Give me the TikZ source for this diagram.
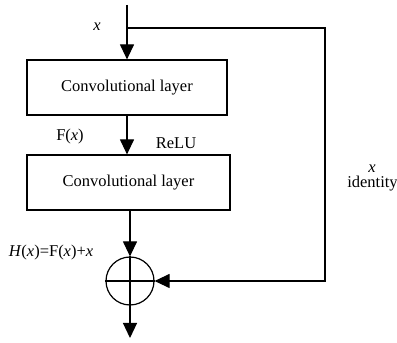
\documentclass[tikz,border=0pt]{standalone}
\usepackage{fontspec}
\setmainfont{Liberation Serif}
\usepackage{tikz}
\usetikzlibrary{arrows.meta,positioning}
\tikzset{
  every picture/.style={font=\fontsize{16.5}{19}\selectfont, line join=miter, x=1pt, y=1pt},
  layerbox/.style={draw, line width=1.2pt, minimum height=55pt, inner sep=0pt},
  sumnode/.style={draw, circle, line width=1.2pt, minimum size=48pt, inner sep=0pt},
  flow/.style={line width=1.2pt},
  arr/.style={flow, -{Triangle[length=15pt,width=14pt]}},
  lbl/.style={inner sep=0.5pt},
}
\begin{document}
\begin{tikzpicture}
\useasboundingbox (0,0) rectangle (397,343);
% blocks
\coordinate (in) at (127,338);
\coordinate (split) at (127,315);
\node[layerbox,minimum width=200pt] (conv1) at (127,255.5) {Convolutional layer};
\node[layerbox,minimum width=203pt] (conv2) at (128.5,160.5) {Convolutional layer};
\node[sumnode] (sum) at (130,62) {};
\coordinate (out) at (130,5);
\coordinate (turn) at (325,62);
% connectors
\draw[arr] (in) -- (conv1.north);
\draw[arr] (conv1.south) -- (conv1.south |- conv2.north);
\draw[arr] (conv2.south -| sum) -- (sum.north);
\draw[arr] (sum.south) -- (out);
\draw[arr] (split) -| (turn) -- (sum.east);
\draw[flow] (sum.north) -- (sum.south);
\draw[flow] (sum.west) -- (sum.east);
% labels
\node[lbl] (xin) at (97,316) {\textit{x}};
\node[lbl] (fx) at (70,206) {F(\textit{x})};
\node[lbl] (relu) at (176,200) {ReLU};
\node[lbl] (xid) at (372,174) {\textit{x}};
\node[lbl] (ident) at (372.5,159) {identity};
\node[lbl] (hx) at (51,90) {\textit{H}(\textit{x})=F(\textit{x})+\textit{x}};
\end{tikzpicture}
\end{document}
